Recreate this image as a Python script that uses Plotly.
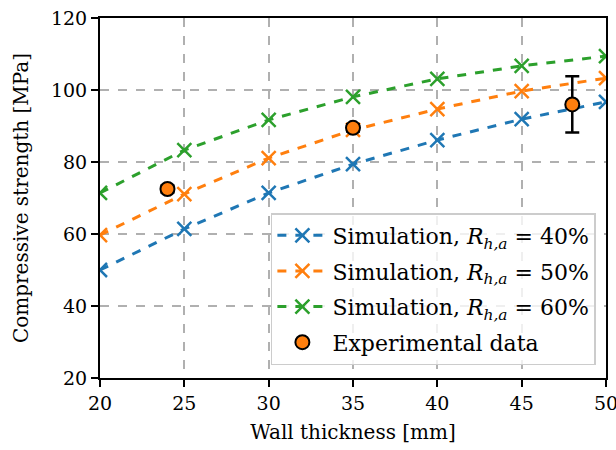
import plotly.graph_objects as go

thickness = [20, 25, 30, 35, 40, 45, 50]
sim_40 = [50.0, 61.4, 71.4, 79.4, 86.1, 91.9, 96.7]
sim_50 = [59.7, 71.1, 81.1, 88.9, 94.7, 99.7, 103.3]
sim_60 = [71.4, 83.3, 91.7, 98.1, 103.1, 106.7, 109.4]

exp_x = [24, 35, 48]
exp_y = [72.5, 89.5, 96.0]
exp_err = [1.0, 1.0, 7.8]

colors = ["#1f77b4", "#ff7f0e", "#2ca02c"]
labels = ["40%", "50%", "60%"]
FONT = "DejaVu Serif"
FS = 19

fig = go.Figure()
for i, (ys, c, lab) in enumerate(zip([sim_40, sim_50, sim_60], colors, labels)):
    fig.add_trace(go.Scatter(
        x=thickness, y=ys, mode="lines+markers", legendgroup=f"g{i}",
        name=f"Simulation, <i>R</i><sub><i>h,a</i></sub>&nbsp;=&nbsp;{lab}",
        line=dict(color=c, width=3, dash="dash"),
        marker=dict(symbol="x-thin", size=14, line=dict(color=c, width=2.5)),
    ))
fig.add_trace(go.Scatter(
    x=exp_x, y=exp_y, mode="markers", name="Experimental data", legendgroup="g3",
    marker=dict(color="#ff7f0e", size=14, line=dict(color="black", width=2)),
    error_y=dict(type="data", array=exp_err, color="black", thickness=2.5, width=7),
))

axis_common = dict(
    showline=True, linecolor="black", linewidth=2, mirror=True,
    ticks="outside", tickcolor="black", ticklen=7, tickwidth=2,
    showgrid=True, gridcolor="#b0b0b0", griddash="dash", gridwidth=1.5,
    zeroline=False, tickfont=dict(family=FONT, size=FS, color="black"),
    ticklabeloverflow="allow",
)
fig.update_xaxes(range=[20, 50], dtick=5, automargin="bottom",
                 title=dict(text="Wall thickness [mm]", font=dict(family=FONT, size=20, color="black"), standoff=12),
                 **axis_common)
fig.update_yaxes(range=[20, 120], dtick=20, automargin="left",
                 title=dict(text="Compressive strength [MPa]", font=dict(family=FONT, size=20, color="black"), standoff=17),
                 **axis_common)

fig.update_layout(
    width=616, height=450,
    margin=dict(l=100, r=10, t=18, b=72),
    plot_bgcolor="white", paper_bgcolor="white",
    font=dict(family=FONT, size=FS, color="black"),
    legend=dict(x=0.98, y=0.036, xanchor="right", yanchor="bottom",
                bgcolor="rgba(255,255,255,0.8)", bordercolor="#cccccc", borderwidth=1.5,
                font=dict(family=FONT, size=22), tracegroupgap=4, itemwidth=50),
    showlegend=True,
)
fig.write_html("out.html")
